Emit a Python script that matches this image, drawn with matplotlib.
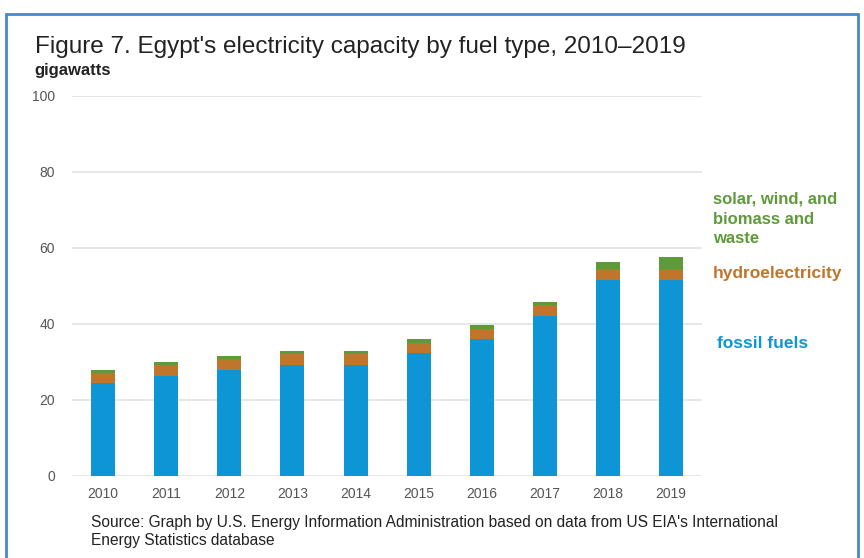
import numpy as np
import matplotlib.pyplot as plt
from matplotlib.patches import Rectangle

plt.rcParams['font.family'] = ['Liberation Sans', 'DejaVu Sans']

years = ['2010', '2011', '2012', '2013', '2014', '2015', '2016', '2017', '2018', '2019']
fossil = [24.4, 26.4, 28.0, 29.3, 29.3, 32.3, 36.0, 42.2, 51.6, 51.6]
hydro = [2.8, 2.8, 2.8, 2.8, 2.8, 2.8, 2.8, 2.8, 2.8, 2.8]
renew = [0.6, 0.7, 0.8, 0.8, 0.8, 1.0, 0.9, 0.9, 2.0, 3.1]

blue = '#0e95d6'
orange = '#c0752c'
green = '#5f9a3a'

fig = plt.figure(figsize=(8.64, 5.58), dpi=100)
ax = fig.add_axes([0.083, 0.147, 0.73, 0.681])

x = np.arange(len(years))
w = 0.38
fossil = np.array(fossil)
hydro = np.array(hydro)
renew = np.array(renew)
ax.bar(x, fossil, w, color=blue, zorder=3)
ax.bar(x, hydro, w, bottom=fossil, color=orange, zorder=3)
ax.bar(x, renew, w, bottom=fossil + hydro, color=green, zorder=3)

ax.set_ylim(0, 100)
ax.set_xlim(-0.5, len(years) - 0.5)
ax.set_yticks([0, 20, 40, 60, 80, 100])
ax.set_xticks(x)
ax.set_xticklabels(years)
ax.grid(axis='y', color='#e3e3e3', lw=1.2, zorder=0)
for s in ax.spines.values():
    s.set_visible(False)
ax.tick_params(length=0, labelsize=10, colors='#555555')
ax.tick_params(axis='x', pad=8)
ax.tick_params(axis='y', pad=12)

fig.text(0.04, 0.905, "Figure 7. Egypt's electricity capacity by fuel type, 2010\u20132019",
         fontsize=17.5, color='#222222')
fig.text(0.04, 0.865, 'gigawatts', fontsize=12, color='#222222', weight='bold')

fig.text(0.825, 0.6075, 'solar, wind, and\nbiomass and\nwaste', fontsize=12, color=green,
         weight='bold', linespacing=1.4, va='center')
fig.text(0.825, 0.51, 'hydroelectricity', fontsize=12.5, color=orange, weight='bold', va='center')
fig.text(0.83, 0.385, 'fossil fuels', fontsize=12.5, color=blue, weight='bold', va='center')

fig.text(0.105, 0.024, "Source: Graph by U.S. Energy Information Administration based on data from US EIA's International\nEnergy Statistics database",
         fontsize=11.2, color='#222222', linespacing=1.2)

fig.patches.append(Rectangle((0.007, -0.05), 0.986, 1.025, transform=fig.transFigure,
                             fill=False, edgecolor='#4a86c8', lw=2))

fig.savefig('out.png', dpi=100)
